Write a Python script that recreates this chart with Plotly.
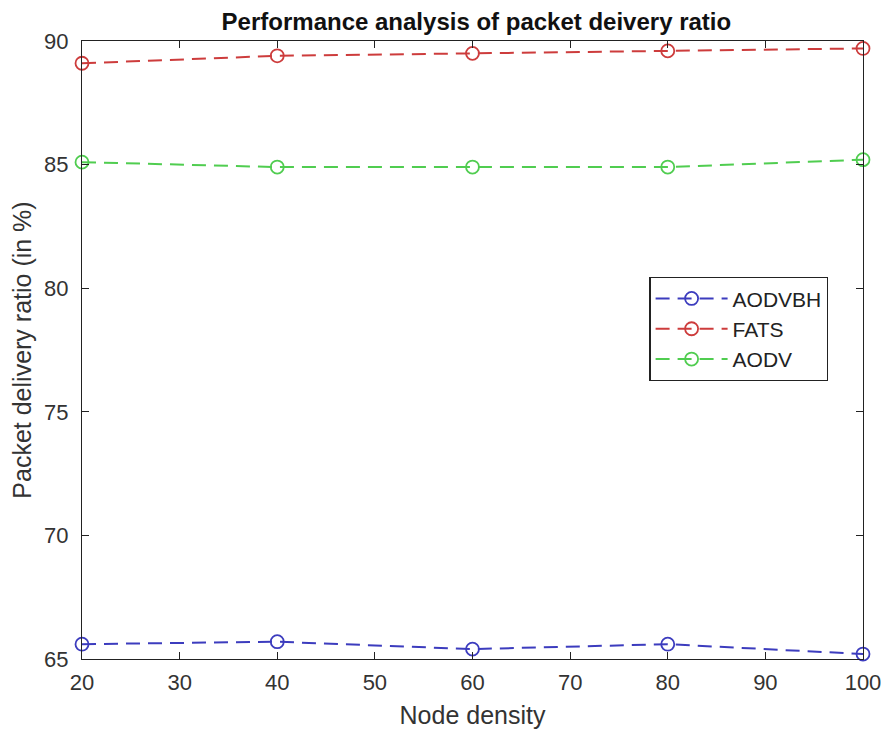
import plotly.graph_objects as go

node_density = [20, 40, 60, 80, 100]
aodvbh = [65.6, 65.7, 65.4, 65.6, 65.2]
fats = [89.1, 89.4, 89.5, 89.6, 89.7]
aodv = [85.1, 84.9, 84.9, 84.9, 85.2]

series = [
    ("AODVBH", aodvbh, "rgb(60,60,190)"),
    ("FATS", fats, "rgb(205,60,60)"),
    ("AODV", aodv, "rgb(80,205,80)"),
]

fig = go.Figure()
for name, vals, col in series:
    fig.add_trace(go.Scatter(
        x=node_density, y=vals, name=name, mode="lines+markers",
        line=dict(color=col, width=2, dash="14px,8px"),
        marker=dict(symbol="circle-open", size=13, color=col, line=dict(width=1.8, color=col)),
        cliponaxis=False,
    ))

font_fam = "Liberation Sans, Arial, sans-serif"
fig.update_layout(
    width=885, height=730,
    paper_bgcolor="white", plot_bgcolor="white",
    margin=dict(l=74, r=25, t=33, b=79),
    font=dict(family=font_fam, color="#333333", size=21),
    title=dict(text="<b>Performance analysis of packet deivery ratio</b>",
               xref="paper", x=0.505, xanchor="center",
               yref="container", y=0.993, yanchor="top",
               pad=dict(t=0, b=0),
               font=dict(size=24, color="#111111")),
    showlegend=True,
    legend=dict(x=0.7265, y=0.618, xanchor="left", yanchor="top",
                bordercolor="#222222", borderwidth=1.2, bgcolor="white",
                font=dict(size=21, color="#222222"), tracegroupgap=0,
                itemwidth=72),
)
fig.update_xaxes(
    range=[20, 100], tickvals=[20, 30, 40, 50, 60, 70, 80, 90, 100],
    ticks="inside", ticklen=7, tickcolor="#222222", showgrid=False, zeroline=False,
    showline=True, linecolor="#222222", linewidth=1.2, mirror="ticks",
    tickfont=dict(size=22, color="#333333"), ticklabelstandoff=3,
    title=dict(text="Node density", font=dict(size=25, color="#333333"), standoff=12),
)
fig.update_yaxes(
    range=[65, 90], tickvals=[65, 70, 75, 80, 85, 90],
    ticks="inside", ticklen=7, tickcolor="#222222", showgrid=False, zeroline=False,
    showline=True, linecolor="#222222", linewidth=1.2, mirror="ticks",
    tickfont=dict(size=22, color="#333333"), ticklabelstandoff=8,
    title=dict(text="Packet delivery ratio (in %)", font=dict(size=25, color="#333333"), standoff=6),
)
fig.write_html("out.html")
